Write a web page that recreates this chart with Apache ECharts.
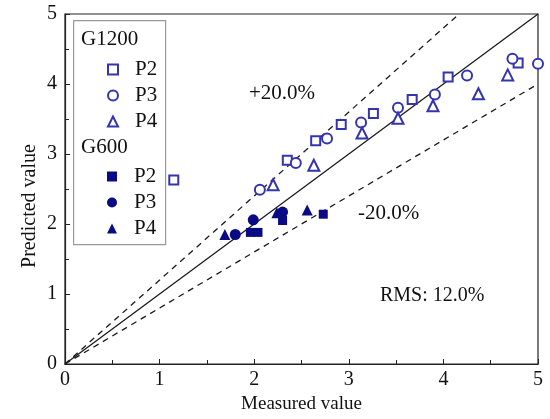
<!DOCTYPE html>
<html>
<head>
<meta charset="utf-8">
<script src="https://cdn.jsdelivr.net/npm/echarts@6/dist/echarts.min.js"></script>
<style>
html,body{margin:0;padding:0;background:#fff;}
#chart{width:550px;height:419px;}
</style>
</head>
<body>
<div id="chart"></div>
<script>
// Axis ticks
const xTicks = [0, 1, 2, 3, 4, 5];
const yTicks = [0, 1, 2, 3, 4, 5];

// G1200 group (hollow markers): [measured, predicted]
const g1200P2 = [[1.15,2.63],[2.35,2.91],[2.65,3.19],[2.92,3.42],[3.26,3.58],[3.67,3.78],[4.05,4.10],[4.79,4.30]];
const g1200P3 = [[2.06,2.49],[2.44,2.87],[2.77,3.22],[3.13,3.45],[3.52,3.66],[3.91,3.85],[4.25,4.12],[4.73,4.36],[5.0,4.29]];
const g1200P4 = [[2.20,2.56],[2.63,2.84],[3.14,3.30],[3.52,3.51],[3.89,3.69],[4.37,3.86],[4.68,4.13]];

// G600 group (filled markers)
const g600P2 = [[1.96,1.88],[2.04,1.88],[2.30,2.05],[2.73,2.14]];
const g600P3 = [[1.80,1.85],[1.99,2.06],[2.30,2.17]];
const g600P4 = [[1.69,1.85],[2.24,2.16],[2.56,2.20]];

// Reference lines: perfect agreement and +/-20% bounds
const lineEqual = [[0,0],[5,5]];
const linePlus20 = [[0,0],[5/1.2,5]];
const lineMinus20 = [[0,0],[5,4]];

const FONT = '"Liberation Serif", "DejaVu Serif", serif';
const OPEN = '#3434ae';
const FILL = '#0a0a86';

function scatter(name, data, symbol, size, color, hollow) {
  return {
    type: 'scatter', name, data, symbol, symbolSize: size, clip: true,
    itemStyle: hollow ? { color: color, borderWidth: 1.3, opacity: 1 } : { color: color, opacity: 1 },
    z: 5
  };
}
function refLine(data, dashed) {
  return {
    type: 'line', data, symbol: 'none', silent: true,
    lineStyle: { color: '#1a1a1a', width: 1.3, type: dashed ? [6, 5] : 'solid' },
    z: 3
  };
}

const chart = echarts.init(document.getElementById('chart'));
const legendText = { fontFamily: FONT, fontSize: 21, color: '#111', padding: [0, 0, 0, 12] };
chart.setOption({
  animation: false,
  backgroundColor: '#fff',
  grid: { left: 65, right: 12, top: 14, bottom: 55, show: true, borderColor: '#222', borderWidth: 1.2, backgroundColor: 'transparent' },
  xAxis: {
    type: 'value', min: xTicks[0], max: xTicks[xTicks.length - 1], interval: 1,
    name: 'Measured value', nameLocation: 'middle', nameGap: 31,
    nameTextStyle: { fontFamily: FONT, fontSize: 19, color: '#111' },
    axisLine: { lineStyle: { color: '#222', width: 1.2 } },
    axisTick: { inside: true, length: 5, lineStyle: { color: '#222' } },
    minorTick: { show: true, splitNumber: 2, length: 4, lineStyle: { color: '#222' } },
    axisLabel: { fontFamily: FONT, fontSize: 20, color: '#111', margin: 6 },
    splitLine: { show: false }
  },
  yAxis: {
    type: 'value', min: yTicks[0], max: yTicks[yTicks.length - 1], interval: 1,
    axisLine: { show: true, lineStyle: { color: '#222', width: 1.2 } },
    axisTick: { show: true, inside: true, length: 5, lineStyle: { color: '#222' } },
    minorTick: { show: true, splitNumber: 2, length: 4, lineStyle: { color: '#222' } },
    axisLabel: { fontFamily: FONT, fontSize: 20, color: '#111', margin: 8 },
    splitLine: { show: false }
  },
  legend: [
    {
      data: ['G1200 P2', 'G1200 P3', 'G1200 P4'],
      orient: 'vertical', left: 102, top: 54, itemGap: 5, itemWidth: 10, itemHeight: 10,
      formatter: n => n.split(' ')[1], textStyle: legendText, selectedMode: false
    },
    {
      data: ['G600 P2', 'G600 P3', 'G600 P4'],
      orient: 'vertical', left: 102, top: 161, itemGap: 5, itemWidth: 10, itemHeight: 10,
      formatter: n => n.split(' ')[1], textStyle: legendText, selectedMode: false
    }
  ],
  graphic: [
    { type: 'rect', left: 73, top: 20, z: 1, shape: { width: 92, height: 224 },
      style: { fill: '#fff', stroke: '#999', lineWidth: 1.2 } },
    { type: 'text', left: 81, top: 29, z: 10, style: { text: 'G1200', font: '21px ' + FONT, fill: '#111' } },
    { type: 'text', left: 81, top: 137, z: 10, style: { text: 'G600', font: '21px ' + FONT, fill: '#111' } },
    { type: 'text', x: 30, y: 206, rotation: Math.PI / 2, z: 10,
      style: { text: 'Predicted value', font: '20px ' + FONT, fill: '#111', align: 'center', verticalAlign: 'middle' } },
    { type: 'text', left: 249, top: 83, z: 10, style: { text: '+20.0%', font: '21px ' + FONT, fill: '#111' } },
    { type: 'text', left: 358, top: 203, z: 10, style: { text: '-20.0%', font: '21px ' + FONT, fill: '#111' } },
    { type: 'text', left: 380, top: 286, z: 10, style: { text: 'RMS: 12.0%', font: '20px ' + FONT, fill: '#111' } }
  ],
  series: [
    refLine(lineEqual, false),
    refLine(linePlus20, true),
    refLine(lineMinus20, true),
    scatter('G1200 P2', g1200P2, 'emptyRect', 9, OPEN, true),
    scatter('G1200 P3', g1200P3, 'emptyCircle', 10, OPEN, true),
    scatter('G1200 P4', g1200P4, 'emptyTriangle', 11, OPEN, true),
    scatter('G600 P2', g600P2, 'rect', 9, FILL, false),
    scatter('G600 P3', g600P3, 'circle', 11, FILL, false),
    scatter('G600 P4', g600P4, 'triangle', 11, FILL, false)
  ]
});
</script>
</body>
</html>
